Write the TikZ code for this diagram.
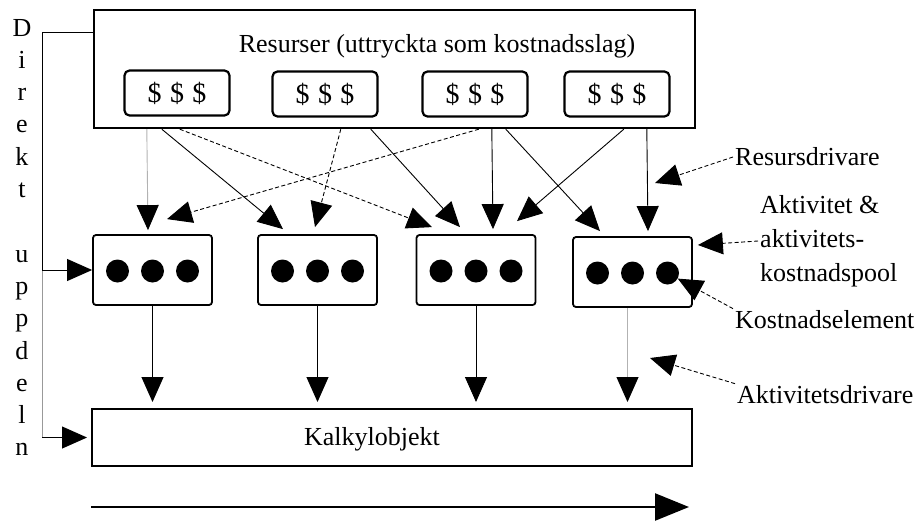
\documentclass[tikz,border=0pt]{standalone}
\usepackage{fontspec}
\setmainfont{Liberation Serif}
\usetikzlibrary{arrows.meta,calc}

\tikzset{
  every node/.style={font=\fontsize{26}{34}\selectfont},
  resbox/.style={draw, line width=2.4pt, minimum width=601pt, minimum height=118pt},
  costbox/.style={draw, rounded corners=5pt, line width=2.2pt, minimum width=105pt, minimum height=45pt, inner sep=0pt, font=\fontsize{28}{34}\selectfont},
  pool/.style={draw, rounded corners=3pt, line width=1.8pt, minimum width=119pt, minimum height=70pt},
  dot/.style={circle, fill=black, minimum size=23pt, inner sep=0pt},
  arr/.style={-{Triangle[length=25pt,width=22pt,color=black]}, line width=0.9pt},
  darr/.style={arr, dash pattern=on 4pt off 2.5pt},
  faint/.style={draw=black!30},
  lbl/.style={anchor=west, inner sep=2pt},
}

\begin{document}
\begin{tikzpicture}[x=1pt, y=-1pt]
    \useasboundingbox (0,0) rectangle (918,520);

    % Nodes
    \node[resbox] (res) at (394.5,69) {};
    \node (title) at (437,46) {Resurser (uttryckta som kostnadsslag)};
    \node[costbox] (r1) at (177,93) {\$\hspace{0.3em}\$\hspace{0.3em}\$};
    \node[costbox] (r2) at (325,94) {\$\hspace{0.3em}\$\hspace{0.3em}\$};
    \node[costbox] (r3) at (475,94) {\$\hspace{0.3em}\$\hspace{0.3em}\$};
    \node[costbox] (r4) at (617,94) {\$\hspace{0.3em}\$\hspace{0.3em}\$};

    \node[pool] (p1) at (152.5,270) {};
    \node[pool] (p2) at (317.5,270) {};
    \node[pool] (p3) at (476,270) {};
    \node[pool] (p4) at (632.5,272) {};
    \foreach \i in {1,...,4}
      \foreach \j in {1,2,3}
        \node[dot] (d\i\j) at ($(p\i)+(\j*35-70,1)$) {};

    \node[draw, line width=2pt, minimum width=600pt, minimum height=57pt] (kalk) at (392,437.5) {};
    \node (kalktext) at (372,439) {Kalkylobjekt};

    % Vertical text on the left
    \foreach \c/\k in {D/0,i/1,r/2,e/3,k/4,t/5,u/7,p/8,p/9,d/10,e/11,l/12,n/13}
      \node[anchor=base, inner sep=0pt] (v\k) at (22,36+\k*32.3) {\c};

    % Labels on the right
    \node[lbl] (rd) at (733,157) {Resursdrivare};
    \node[lbl, align=left] (ak) at (758,241) {Aktivitet \&\\aktivitets-\\kostnadspool};
    \node[lbl] (ke) at (733,320) {Kostnadselement};
    \node[lbl] (ad) at (735,395) {Aktivitetsdrivare};
    \coordinate (rdt) at (655,183);
    \coordinate (adt) at (650,358);

    % Arrows: resources to activities
    \draw[arr, faint] ($(res.south west)+(54,0)$) -- ($(p1.north)+(-4.5,-4)$);
    \draw[arr] ($(res.south west)+(69,0)$) -- ($(p2.north)+(-34.5,-5)$);
    \draw[darr] ($(res.south west)+(87,0)$) -- ($(p3.north)+(-44,-7)$);
    \draw[darr] ($(res.south west)+(386,0)$) -- ($(p1.north)+(14.5,-15)$);
    \draw[darr] ($(res.south west)+(248,0)$) -- ($(p2.north)+(-2.5,-7)$);
    \draw[arr] ($(res.south west)+(278,0)$) -- ($(p3.north)+(-16,-7)$);
    \draw[arr] ($(res.south west)+(399,0)$) -- ($(p3.north)+(17,-5)$);
    \draw[arr] ($(res.south west)+(531,0)$) -- ($(p3.north)+(41,-13)$);
    \draw[arr] ($(res.south west)+(413,0)$) -- ($(p4.north)+(-32.5,-5)$);
    \draw[arr] ($(res.south west)+(554,0)$) -- ($(p4.north)+(15.5,-5)$);

    % Arrows: activities to cost object
    \foreach \i in {1,2,3}
      \draw[arr, shorten >=6pt] (p\i.south) -- (p\i.south |- kalk.north);
    \draw[arr, faint, shorten >=6pt] ($(p4.south)+(-5,0)$) -- ($(p4.south |- kalk.north)+(-5,0)$);

    % Direct allocation bracket
    \coordinate (bk) at (42,32);
    \draw[line width=0.9pt] (res.north west |- bk) -- (bk) -- (bk |- p1.west);
    \draw[line width=0.9pt, black!40] (bk |- p1.west) -- (bk |- kalk.west);
    \draw[arr] (bk |- p1.west) -- (p1.west);
    \draw[arr, shorten >=4pt] (bk |- kalk.west) -- (kalk.west);

    % Label arrows
    \draw[darr] (rd.west) -- (rdt);
    \draw[darr] (ak.west) -- ($(p4.east)+(5,-27)$);
    \draw[darr] (ke.north west) -- (d43);
    \draw[darr] (ad.north west) -- (adt);

    % Bottom arrow
    \draw[line width=2.4pt, -{Triangle[length=34pt,width=27pt]}] ($(kalk.south west)+(0,40)$) -- ($(kalk.south east)+(-4,40)$);
\end{tikzpicture}
\end{document}
